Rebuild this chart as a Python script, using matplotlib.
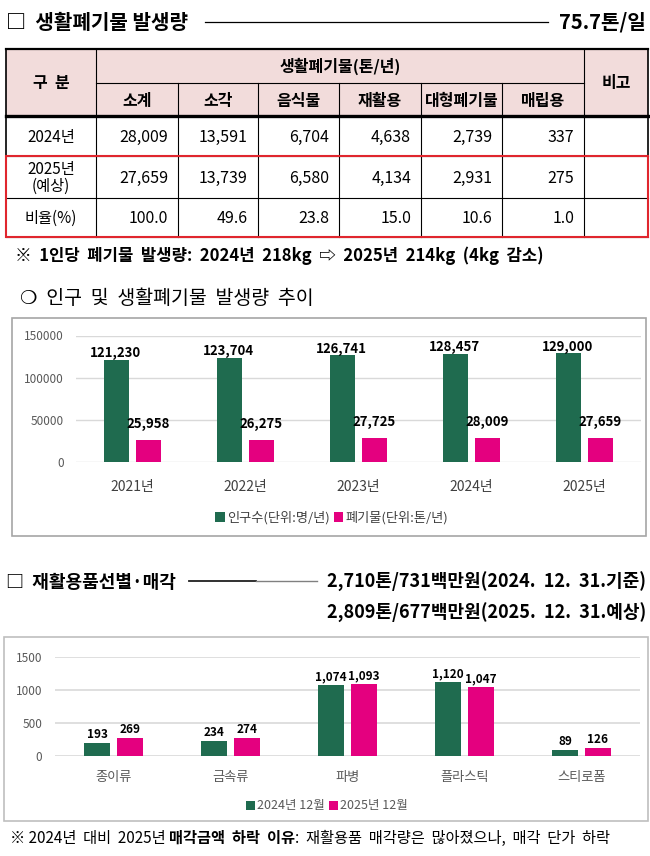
import matplotlib
matplotlib.use("Agg")
import matplotlib.pyplot as plt
from matplotlib.patches import Rectangle
import numpy as np

plt.rcParams['font.family'] = ['Noto Sans CJK KR', 'DejaVu Sans']

# ---------------- data ----------------
title1 = "□  생활폐기물 발생량"
title1_right = "75.7톤/일"
table_group = "생활폐기물(톤/년)"
sub_headers = ['소계', '소각', '음식물', '재활용', '대형폐기물', '매립용']
row_labels = ['2024년', '2025년\n(예상)', '비율(%)']
vals_2024 = [28009, 13591, 6704, 4638, 2739, 337]
vals_2025 = [27659, 13739, 6580, 4134, 2931, 275]
ratio = [100.0, 49.6, 23.8, 15.0, 10.6, 1.0]
note1 = "※  1인당  폐기물  발생량:  2024년  218kg  ⇨  2025년  214kg  (4kg  감소)"
sub_title = "❍  인구  및  생활폐기물  발생량  추이"

years = ['2021년', '2022년', '2023년', '2024년', '2025년']
population = [121230, 123704, 126741, 128457, 129000]
waste = [25958, 26275, 27725, 28009, 27659]
legend1 = ['인구수(단위:명/년)', '폐기물(단위:톤/년)']

title2 = "□  재활용품선별·매각"
title2_right = ["2,710톤/731백만원(2024.  12.  31.기준)",
                "2,809톤/677백만원(2025.  12.  31.예상)"]
rec_cats = ['종이류', '금속류', '파병', '플라스틱', '스티로폼']
rec_2024 = [193, 234, 1074, 1120, 89]
rec_2025 = [269, 274, 1093, 1047, 126]
legend2 = ['2024년 12월', '2025년 12월']
footer_runs = [("※ 2024년  대비  2025년 ", 'normal'),
               ("매각금액  하락  이유", 'bold'),
               (":  재활용품  매각량은  많아졌으나,  매각  단가  하락", 'normal')]

GREEN = '#1F6B4F'
PINK = '#E4007F'
GRID = '#D9D9D9'
TICK = '#595959'

W, H = 650, 856
fig = plt.figure(figsize=(W / 100, H / 100), dpi=100)
ax0 = fig.add_axes([0, 0, 1, 1])
ax0.set_xlim(0, W)
ax0.set_ylim(H, 0)
ax0.axis('off')


def frac(x0, y0, x1, y1):
    return [x0 / W, 1 - y1 / H, (x1 - x0) / W, (y1 - y0) / H]


# ---------------- title 1 ----------------
ax0.text(6, 22, title1, fontsize=14.5, fontweight='heavy', va='center', ha='left')
ax0.plot([205, 548], [22, 22], color='black', lw=0.9)
ax0.text(646, 22, title1_right, fontsize=14.5, fontweight='heavy', va='center', ha='right')

# ---------------- table ----------------
cx = [6, 96, 178, 258, 339, 421, 502, 584, 648]
ry = [49, 83, 116, 156, 198, 237]
ax0.add_patch(Rectangle((cx[0], ry[0]), cx[-1] - cx[0], ry[2] - ry[0],
                        facecolor='#F2DCDB', edgecolor='none', zorder=0))
lc = 'black'
ax0.plot([cx[0], cx[-1]], [ry[0], ry[0]], color=lc, lw=1.6)
ax0.plot([cx[1], cx[7]], [ry[1], ry[1]], color=lc, lw=0.8)
ax0.plot([cx[0], cx[-1]], [ry[2], ry[2]], color=lc, lw=2.4)
ax0.plot([cx[0], cx[-1]], [ry[3], ry[3]], color=lc, lw=0.8)
ax0.plot([cx[0], cx[-1]], [ry[4], ry[4]], color=lc, lw=0.8)
ax0.plot([cx[0], cx[-1]], [ry[5], ry[5]], color=lc, lw=0.8)
for i, x in enumerate(cx):
    if i in (0, 1, 7, 8):
        ax0.plot([x, x], [ry[0], ry[5]], color=lc, lw=1.2 if i in (0, 8) else 0.8)
    else:
        ax0.plot([x, x], [ry[1], ry[5]], color=lc, lw=0.8)
ax0.add_patch(Rectangle((cx[0], ry[3]), cx[-1] - cx[0], ry[5] - ry[3],
                        facecolor='none', edgecolor='#E0262E', lw=1.5, zorder=5))

ax0.text((cx[0] + cx[1]) / 2, (ry[0] + ry[2]) / 2, '구  분', fontsize=11.5,
         fontweight='bold', ha='center', va='center')
ax0.text((cx[1] + cx[7]) / 2, (ry[0] + ry[1]) / 2, table_group, fontsize=11.5,
         fontweight='bold', ha='center', va='center')
ax0.text((cx[7] + cx[8]) / 2, (ry[0] + ry[2]) / 2, '비고', fontsize=11.5,
         fontweight='bold', ha='center', va='center')
for j, s in enumerate(sub_headers):
    ax0.text((cx[j + 1] + cx[j + 2]) / 2, (ry[1] + ry[2]) / 2 + 1, s, fontsize=11.5,
             fontweight='bold', ha='center', va='center')

rows = [[f"{v:,}" for v in vals_2024],
        [f"{v:,}" for v in vals_2025],
        [f"{v:.1f}" for v in ratio]]
for i, lab in enumerate(row_labels):
    yc = (ry[i + 2] + ry[i + 3]) / 2 + 1
    ax0.text((cx[0] + cx[1]) / 2, yc, lab, fontsize=11, ha='center', va='center',
             linespacing=1.05)
    for j, s in enumerate(rows[i]):
        ax0.text(cx[j + 2] - 10, yc, s, fontsize=11.5, ha='right', va='center')

# ---------------- note + subtitle ----------------
ax0.text(15, 256, note1, fontsize=12, fontweight='bold', ha='left', va='center')
ax0.text(20, 298, sub_title, fontsize=14, ha='left', va='center')

# ---------------- chart 1 ----------------
ax0.add_patch(Rectangle((12, 318), 634, 218, facecolor='white',
                        edgecolor='#A6A6A6', lw=1.2, zorder=1))
ax1 = fig.add_axes(frac(76, 335.5, 641, 461.7))
ax1.set_facecolor('none')
x = np.arange(len(years))
bw, off = 0.22, 0.14
b1 = ax1.bar(x - off, population, bw, color=GREEN, zorder=3)
b2 = ax1.bar(x + off, waste, bw, color=PINK, zorder=3)
ax1.set_xlim(-0.5, len(years) - 0.5)
ax1.set_ylim(0, 150000)
ax1.set_yticks([0, 50000, 100000, 150000])
ax1.set_yticklabels(['0', '50000', '100000', '150000'])
ax1.grid(axis='y', color=GRID, lw=1)
ax1.set_axisbelow(True)
for s in ax1.spines.values():
    s.set_visible(False)
ax1.tick_params(axis='y', length=0, pad=9, labelsize=8.5, labelcolor=TICK)
ax1.set_xticks(x)
ax1.set_xticklabels(years)
ax1.tick_params(axis='x', length=0, pad=13.5, labelsize=10, labelcolor='#404040')
for xi, v in zip(x, population):
    ax1.annotate(f"{v:,}", (xi - off, v), xytext=(-1, 4.5), textcoords='offset points',
                 ha='center', va='center', fontsize=9.5, fontweight='bold',
                 annotation_clip=False)
for xi, v in zip(x, waste):
    ax1.annotate(f"{v:,}", (xi + off, v), xytext=(0, 11.5), textcoords='offset points',
                 ha='center', va='center', fontsize=9.5, fontweight='bold',
                 annotation_clip=False)
fig.legend([b1, b2], legend1, loc='center', bbox_to_anchor=(332 / W, 1 - 518 / H),
           ncol=2, frameon=False, fontsize=9.5, handlelength=0.7, handleheight=0.7,
           handletextpad=0.2, columnspacing=0.3, labelcolor='#404040')

# ---------------- title 2 ----------------
ax0.text(6, 582, title2, fontsize=13, fontweight='heavy', ha='left', va='center')
ax0.plot([189, 256], [581, 581], color='#202020', lw=1.3)
ax0.plot([256, 317], [581, 581], color='#808080', lw=1.0)
ax0.text(646, 582, title2_right[0], fontsize=13, fontweight='heavy', ha='right', va='center')
ax0.text(646, 613, title2_right[1], fontsize=13, fontweight='heavy', ha='right', va='center')

# ---------------- chart 2 ----------------
ax0.add_patch(Rectangle((4, 637), 644, 184, facecolor='white',
                        edgecolor='#BFBFBF', lw=1.2, zorder=1))
ax2 = fig.add_axes(frac(55, 657, 640, 756))
ax2.set_facecolor('none')
x2 = np.arange(len(rec_cats))
c1 = ax2.bar(x2 - off, rec_2024, bw, color=GREEN, zorder=3)
c2 = ax2.bar(x2 + off, rec_2025, bw, color=PINK, zorder=3)
ax2.set_xlim(-0.5, len(rec_cats) - 0.5)
ax2.set_ylim(0, 1500)
ax2.set_yticks([0, 500, 1000, 1500])
ax2.grid(axis='y', color=GRID, lw=1.2)
ax2.set_axisbelow(True)
for s in ax2.spines.values():
    s.set_visible(False)
ax2.tick_params(axis='y', length=0, pad=9, labelsize=8.5, labelcolor=TICK)
ax2.set_xticks(x2)
ax2.set_xticklabels(rec_cats)
ax2.tick_params(axis='x', length=0, pad=10.5, labelsize=9.5, labelcolor=TICK)
for xi, v in zip(x2, rec_2024):
    ax2.annotate(f"{v:,}", (xi - off, v), xytext=(0, 6), textcoords='offset points',
                 ha='center', va='center', fontsize=8.5, fontweight='bold',
                 annotation_clip=False)
for xi, v in zip(x2, rec_2025):
    ax2.annotate(f"{v:,}", (xi + off, v), xytext=(0, 6), textcoords='offset points',
                 ha='center', va='center', fontsize=8.5, fontweight='bold',
                 annotation_clip=False)
fig.legend([c1, c2], legend2, loc='center', bbox_to_anchor=(327 / W, 1 - 806 / H),
           ncol=2, frameon=False, fontsize=9, handlelength=0.7, handleheight=0.7,
           handletextpad=0.2, columnspacing=0.3, labelcolor=TICK)

# ---------------- footer ----------------
renderer = fig.canvas.get_renderer()
xpos = 10
for s, w in footer_runs:
    t = ax0.text(xpos, 838, s, fontsize=11, fontweight=w, ha='left', va='center')
    bb = t.get_window_extent(renderer=renderer)
    xpos += bb.width

fig.savefig('out.png', dpi=100)
